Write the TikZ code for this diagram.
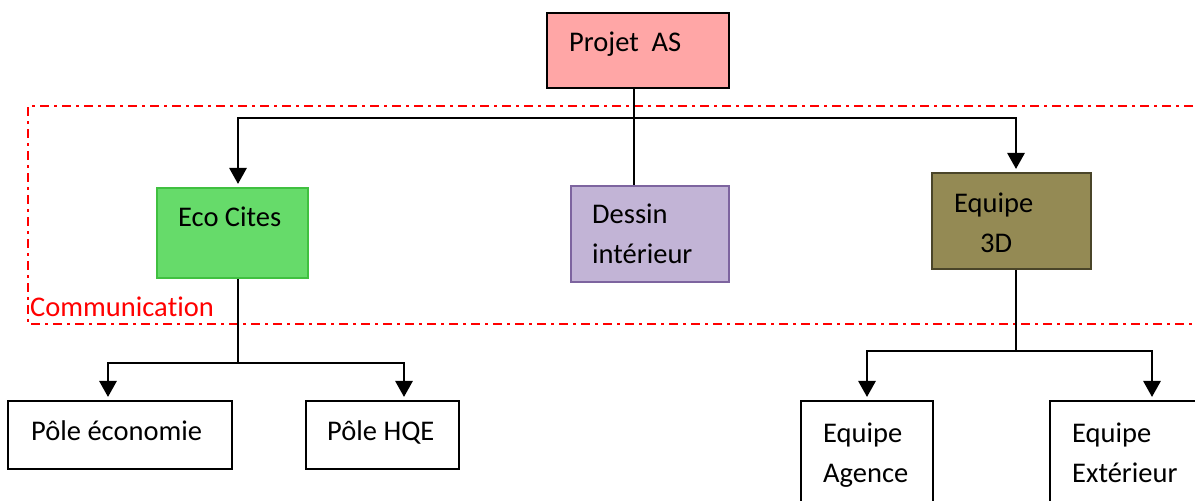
\documentclass[tikz,border=0pt]{standalone}
\usepackage{fontspec}
\setmainfont{Carlito}[Ligatures={NoCommon,NoContextual,NoRequired}]
\usetikzlibrary{arrows.meta,positioning}

\definecolor{projetfill}{RGB}{255,166,166}
\definecolor{ecofill}{RGB}{102,219,106}
\definecolor{ecoline}{RGB}{64,192,64}
\definecolor{dessinfill}{RGB}{194,180,214}
\definecolor{dessinline}{RGB}{125,100,159}
\definecolor{equipefill}{RGB}{148,138,84}
\definecolor{equipeline}{RGB}{74,69,41}

\tikzset{
  box/.style={draw=black, line width=2bp, rectangle, inner sep=0pt},
  boxtext/.style={anchor=base west, inner sep=0pt, align=left, font=\fontsize{28.5bp}{40bp}\selectfont},
  conn/.style={line width=2.8bp},
  arr/.style={conn, shorten >=3bp, -{Triangle[width=17bp,length=16bp]}},
  commframe/.style={draw=red, line width=2bp, dash pattern=on 9bp off 5bp on 3bp off 5bp}
}

\begin{document}
\begin{tikzpicture}[x=1bp,y=-1bp]
\useasboundingbox (0,0) rectangle (1195,501);
%%
  % Frame: Communication
  \draw[commframe] (1215,106) -- (28,106) -- (28,324) -- (1215,324);
  \node[boxtext, text=red] (comm) at (30,317) {Communica\kern0ptti\kern0pton};
  % Node: projet
  \node[box, fill=projetfill, minimum width=182bp, minimum height=75bp] (projet) at (638,50.5) {};
  \node[boxtext] (projettxt) at (569,52) {Projet\ \ AS};
  % Node: eco
  \node[box, draw=ecoline, fill=ecofill, minimum width=151bp, minimum height=90bp] (eco) at (232.5,233) {};
  \node[boxtext] (ecotxt) at (178,227) {Eco Cites};
  % Node: dessin
  \node[box, draw=dessinline, fill=dessinfill, minimum width=158bp, minimum height=96bp] (dessin) at (650,234) {};
  \node[boxtext] (dessintxt) at (592,264) {Dessin\\intérieur};
  % Node: equipe
  \node[box, draw=equipeline, fill=equipefill, minimum width=159bp, minimum height=96bp] (equipe) at (1011.5,221) {};
  \node[boxtext] (equipetxt) at (954,253) {Equipe\\\hspace*{26bp}3D};
  % Node: poleeco
  \node[box, minimum width=224bp, minimum height=68bp] (poleeco) at (120,435) {};
  \node[boxtext] (poleecotxt) at (31,440) {Pôle économie};
  % Node: polehqe
  \node[box, minimum width=153bp, minimum height=68bp] (polehqe) at (382.5,435) {};
  \node[boxtext] (polehqetxt) at (327,440) {Pôle HQE};
  % Node: agence
  \node[box, minimum width=132bp, minimum height=139bp] (agence) at (867,470.5) {};
  \node[boxtext] (agencetxt) at (823,482) {Equipe\\Agence};
  % Node: exterieur
  \node[box, minimum width=204bp, minimum height=139bp] (exterieur) at (1152,470.5) {};
  \node[boxtext] (exterieurtxt) at (1072,482) {Equipe\\Extérieur};
%%
  \coordinate (pj) at ([xshift=-4bp]projet.south);
  \coordinate (busL) at (238,118);
  \coordinate (busR) at (1016,118);
  \coordinate (ecoL) at (108,363);
  \coordinate (ecoR) at (404,363);
  \coordinate (eqL) at (867,351);
  \coordinate (eqR) at (1152,351);
  % Edge: projet -> dessin
  \draw[conn] (pj) -- (pj |- dessin.north);
  % Edge: projet -> eco
  \draw[arr] (pj |- busL) -- (busL) -- (busL |- eco.north);
  % Edge: projet -> equipe
  \draw[arr] (pj |- busR) -- (busR) -- (busR |- equipe.north);
  % Edge: eco -> poleeco
  \draw[arr] (busL |- eco.south) |- (ecoL) -- (ecoL |- poleeco.north);
  % Edge: eco -> polehqe
  \draw[arr] (busL |- ecoR) -- (ecoR) -- (ecoR |- polehqe.north);
  % Edge: equipe -> agence
  \draw[arr] (busR |- equipe.south) |- (eqL) -- (eqL |- agence.north);
  % Edge: equipe -> exterieur
  \draw[arr] (busR |- eqR) -- (eqR) -- (eqR |- exterieur.north);
%
\end{tikzpicture}
\end{document}
